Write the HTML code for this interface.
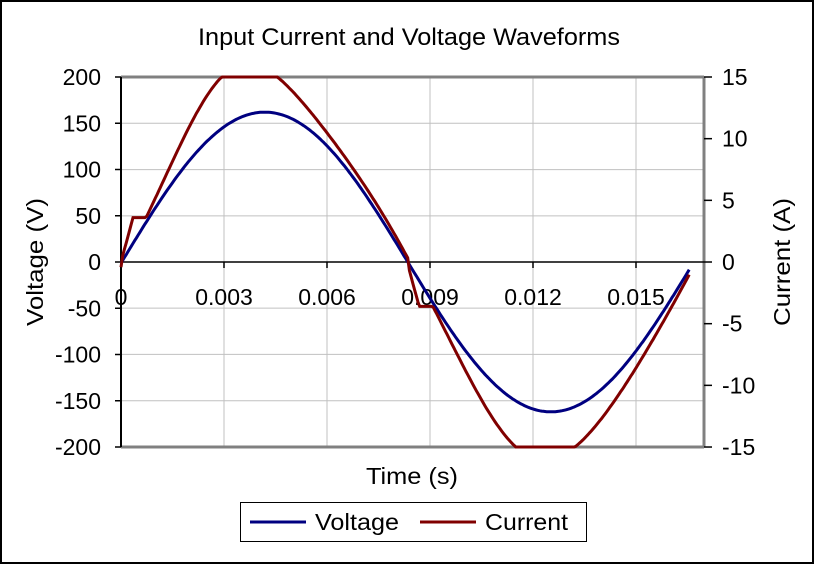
<!DOCTYPE html>
<html><head><style>
body{margin:0;background:#fff;}
svg{display:block;font-family:"Liberation Sans",Arial,sans-serif;}
</style></head><body>
<svg id="s" width="818" height="565" viewBox="0 0 818 565">
<rect x="1" y="1" width="812" height="562" fill="#fff" stroke="#000" stroke-width="2"/>
<text x="409" y="45" font-size="24" text-anchor="middle" textLength="422" lengthAdjust="spacingAndGlyphs">Input Current and Voltage Waveforms</text>
<g stroke="#c0c0c0" stroke-width="1">
<line x1="121" y1="123.3" x2="704" y2="123.3"/><line x1="121" y1="169.6" x2="704" y2="169.6"/>
<line x1="121" y1="215.9" x2="704" y2="215.9"/><line x1="121" y1="308.1" x2="704" y2="308.1"/>
<line x1="121" y1="354.4" x2="704" y2="354.4"/><line x1="121" y1="400.7" x2="704" y2="400.7"/>
<line x1="224" y1="77" x2="224" y2="447"/><line x1="327" y1="77" x2="327" y2="447"/>
<line x1="430" y1="77" x2="430" y2="447"/><line x1="533" y1="77" x2="533" y2="447"/>
<line x1="636" y1="77" x2="636" y2="447"/>
</g>
<line x1="121" y1="77" x2="704" y2="77" stroke="#808080" stroke-width="3"/>
<line x1="121" y1="447" x2="704" y2="447" stroke="#808080" stroke-width="3"/>
<line x1="704" y1="77" x2="704" y2="447" stroke="#808080" stroke-width="3"/>
<line x1="121" y1="77" x2="121" y2="447" stroke="#000" stroke-width="2"/>
<line x1="121" y1="262" x2="704" y2="262" stroke="#000" stroke-width="1.5"/>
<g id="ticks" stroke="#000" stroke-width="1.5"></g>
<g id="labs" font-size="23"></g>
<path id="v" fill="none" stroke="#000080" stroke-width="3"/>
<path id="c" fill="none" stroke="#800000" stroke-width="3"/>
<text transform="translate(43,262) rotate(-90)" font-size="23" text-anchor="middle" textLength="128" lengthAdjust="spacingAndGlyphs">Voltage (V)</text>
<text transform="translate(790,262) rotate(-90)" font-size="23" text-anchor="middle" textLength="128" lengthAdjust="spacingAndGlyphs">Current (A)</text>
<text x="412" y="484" font-size="23" text-anchor="middle" textLength="92" lengthAdjust="spacingAndGlyphs">Time (s)</text>
<rect x="240.5" y="502.5" width="346" height="39" fill="#fff" stroke="#000" stroke-width="1"/>
<line x1="250" y1="522" x2="306" y2="522" stroke="#000080" stroke-width="3"/>
<text x="315" y="530" font-size="23" textLength="84" lengthAdjust="spacingAndGlyphs">Voltage</text>
<line x1="420" y1="522" x2="476" y2="522" stroke="#800000" stroke-width="3"/>
<text x="485" y="530" font-size="23" textLength="83" lengthAdjust="spacingAndGlyphs">Current</text>
</svg>
<script>
var NS="http://www.w3.org/2000/svg";
function el(p,t,a,txt){var e=document.createElementNS(NS,t);for(var k in a)e.setAttribute(k,a[k]);if(txt!=null)e.textContent=txt;document.getElementById(p).appendChild(e);}
for(var i=0;i<=8;i++){var v=200-50*i,y=77+i*46.25;
 el("ticks","line",{x1:115,y1:y,x2:121,y2:y});
 el("labs","text",{x:101,y:y+8,"text-anchor":"end"},String(v));}
for(var i=0;i<=6;i++){var a=15-5*i,y=77+i*61.67;
 el("ticks","line",{x1:704,y1:y,x2:712,y2:y});
 el("labs","text",{x:722,y:y+8},String(a));}
var xl=["0","0.003","0.006","0.009","0.012","0.015"];
for(var i=0;i<6;i++){var x=121+103*i;
 el("ticks","line",{x1:x,y1:262,x2:x,y2:268});
 el("labs","text",{x:x,y:305,"text-anchor":"middle"},xl[i]);}
var w=2*Math.PI*60,k=103/0.003,s=370/400;
function X(t){return 121+t*k}function Y(v){return 262-v*s}
var dv="",dc="";
for(var t=0;t<=0.01655;t+=0.00005){
 var ph=w*(t-0.00002);
 var v=162*Math.sin(ph);
 var p0=w*(t-0.00008);
 var a=(Math.sin(p0)>=0)?0.24:0.08;
 var c1=210*Math.sin(p0+a*Math.pow(Math.sin(p0),2));
 var b=(Math.sin(p0)>=0)?0.2:0.1;
 var sn=Math.sin(p0+b*Math.pow(Math.sin(p0),2));
 var c2=162*sn*(1+0.35*sn*sn);
 var c=0.5*(c1+c2);
 if(c>200)c=200;if(c<-200)c=-200;
 var tt=t%0.008333, sg=t<0.008333?1:-1;
 if(tt<0.0004&&tt>0.00002){var p=48*Math.min(1,(tt)/0.00035);if(sg*c<p)c=sg*p;}
 else if(tt>=0.0004&&tt<0.00075){if(sg*c<48)c=sg*48;}
 dv+=(dv?"L":"M")+X(t).toFixed(1)+","+Y(v).toFixed(1);
 dc+=(dc?"L":"M")+X(t).toFixed(1)+","+Y(c).toFixed(1);
}
document.getElementById("v").setAttribute("d",dv);
document.getElementById("c").setAttribute("d",dc);
</script>
</body></html>
